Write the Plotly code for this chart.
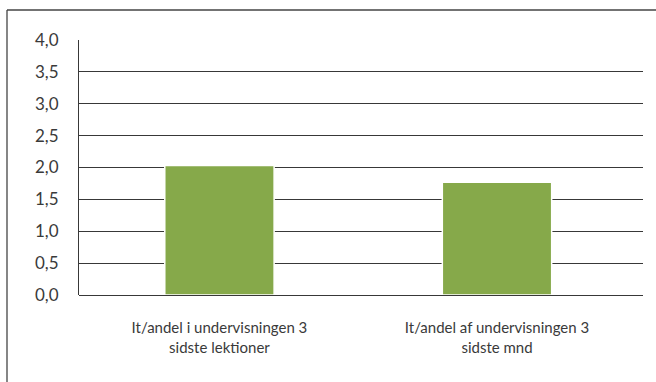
import plotly.graph_objects as go

# Data
categories = ["It/andel i undervisningen 3<br>sidste lektioner",
              "It/andel af undervisningen 3<br>sidste mnd"]
values = [2.03, 1.77]
y_ticks = [0, 0.5, 1.0, 1.5, 2.0, 2.5, 3.0, 3.5, 4.0]
y_tick_labels = ["0,0", "0,5", "1,0", "1,5", "2,0", "2,5", "3,0", "3,5", "4,0"]

W, H = 656, 382
L, R, T, B = 79, 13, 40, 87
plot_w = W - L - R
plot_h = H - T - B

text_color = "#3a3a3a"
grid_color = "#383838"

fig = go.Figure()
fig.add_trace(go.Bar(
    x=[0, 1],
    y=values,
    width=0.394,
    marker=dict(color="#86A94A", line=dict(color="white", width=1.5)),
    hoverinfo="skip",
))

# outer frame (top and left edges)
fx = (7 - L) / plot_w
fy = 1 + (T - 10) / plot_h
fig.add_shape(type="line", xref="paper", yref="paper", x0=fx, x1=1 + R / plot_w + 0.01,
              y0=fy, y1=fy, line=dict(color="#444444", width=1.3))
fig.add_shape(type="line", xref="paper", yref="paper", x0=fx, x1=fx,
              y0=fy, y1=-B / plot_h - 0.01, line=dict(color="#444444", width=1.3))

fig.update_layout(
    width=W, height=H,
    margin=dict(l=L, r=R, t=T, b=B, pad=0),
    paper_bgcolor="white", plot_bgcolor="white",
    showlegend=False,
    font=dict(family="Lato, sans-serif", size=15, color=text_color),
    xaxis=dict(
        range=[-0.506, 1.526],
        tickmode="array", tickvals=[0, 1], ticktext=categories,
        showgrid=False, zeroline=False, showline=False,
        ticks="", ticklabelstandoff=22,
        tickfont=dict(size=15, color=text_color),
        fixedrange=True,
    ),
    yaxis=dict(
        range=[0, 4.0],
        tickmode="array", tickvals=y_ticks, ticktext=y_tick_labels,
        showgrid=True, gridcolor=grid_color, gridwidth=1.2,
        zeroline=True, zerolinecolor=grid_color, zerolinewidth=1.2,
        showline=True, linecolor=grid_color, linewidth=1.2,
        ticks="", ticklabelstandoff=16,
        tickfont=dict(size=17, color=text_color),
        fixedrange=True,
    ),
)

fig.write_html("out.html")
